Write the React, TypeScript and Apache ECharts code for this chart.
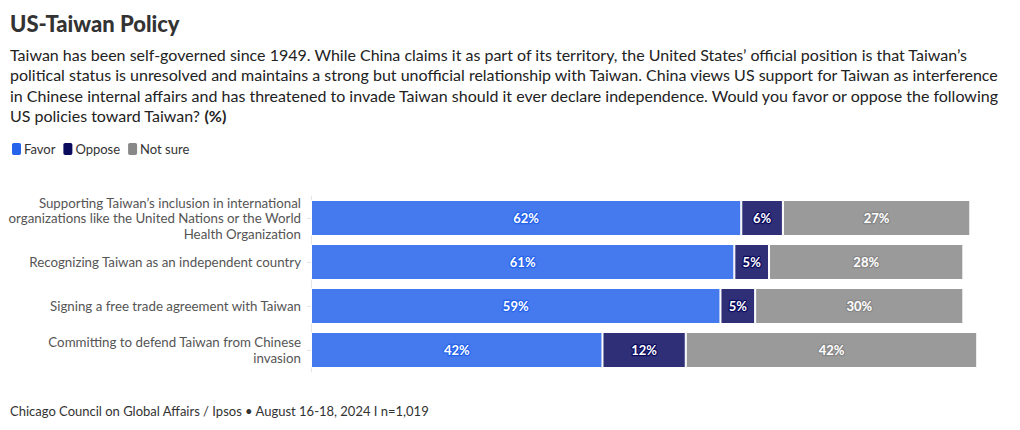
import React, { useEffect, useRef } from "react";
import * as echarts from "echarts";

const categories = [
  "Supporting Taiwan’s inclusion in international\norganizations like the United Nations or the World\nHealth Organization",
  "Recognizing Taiwan as an independent country",
  "Signing a free trade agreement with Taiwan",
  "Committing to defend Taiwan from Chinese\ninvasion",
];
const favor = [62, 61, 59, 42];
const oppose = [6, 5, 5, 12];
const notSure = [27, 28, 30, 42];
const seriesNames = ["Favor", "Oppose", "Not sure"];
const legendColors = ["#2563eb", "#0b0b5e", "#888888"];
const barColors = ["#4579ee", "#2f2f77", "#9a9a9a"];

const titleText = "US-Taiwan Policy";
const subtitleLines = [
  "Taiwan has been self-governed since 1949. While China claims it as part of its territory, the United States’ official position is that Taiwan’s",
  "political status is unresolved and maintains a strong but unofficial relationship with Taiwan. China views US support for Taiwan as interference",
  "in Chinese internal affairs and has threatened to invade Taiwan should it ever declare independence. Would you favor or oppose the following",
];
const subtitleLast = "US policies toward Taiwan? ";
const footerText = "Chicago Council on Global Affairs / Ipsos • August 16-18, 2024 I n=1,019";

const FONT = "Lato, 'Source Sans Pro', sans-serif";

export default function App() {
  const ref = useRef<HTMLDivElement>(null);
  useEffect(() => {
    document.body.style.margin = "0";
    const chart = echarts.init(ref.current!, null, { renderer: "svg" });
    const values = [favor, oppose, notSure];
    chart.setOption({
      animation: false,
      textStyle: { fontFamily: FONT },
      title: [
        {
          text: titleText,
          left: 10,
          top: 12,
          padding: 0,
          textStyle: { fontSize: 22, fontWeight: 900, color: "#333", fontFamily: FONT },
        },
        {
          text: subtitleLines.join("\n") + "\n" + subtitleLast + "{b|(%)}",
          left: 10,
          top: 44,
          padding: 0,
          textStyle: {
            fontSize: 16,
            fontWeight: "normal",
            color: "#222",
            lineHeight: 20.5,
            fontFamily: FONT,
            rich: { b: { fontSize: 16, fontWeight: "bold", color: "#222", fontFamily: FONT } },
          },
        },
        {
          text: footerText,
          left: 10,
          top: 404,
          padding: 0,
          textStyle: { fontSize: 13, color: "#333", fontWeight: "normal", fontFamily: FONT },
        },
      ],
      legend: {
        left: 10,
        top: 141,
        padding: 0,
        itemWidth: 11,
        itemHeight: 14,
        itemGap: 6,
        icon: "roundRect",
        textStyle: { fontSize: 13, color: "#333", padding: [0, 0, 0, -3] },
        data: seriesNames.map((n, i) => ({ name: n, itemStyle: { color: legendColors[i] } })),
      },
      grid: { left: 311, right: 15, top: 196, bottom: 58, containLabel: false },
      xAxis: {
        type: "value",
        min: 0,
        max: 100,
        show: false,
      },
      yAxis: {
        type: "category",
        inverse: true,
        data: categories,
        axisLine: { show: true, lineStyle: { color: "#e6e6e6" } },
        axisTick: { show: true, alignWithLabel: true, length: 4, lineStyle: { color: "#e6e6e6" } },
        axisLabel: { fontSize: 13.3, color: "#555", lineHeight: 15.5, margin: 10, align: "right" },
      },
      series: seriesNames.map((name, i) => ({
        name,
        type: "bar",
        stack: "total",
        barWidth: 36,
        data: values[i],
        itemStyle: { color: barColors[i], borderColor: "#ffffff", borderWidth: 1 },
        label: {
          show: true,
          position: "inside",
          formatter: "{c}%",
          color: "#fff",
          fontSize: 13,
          fontWeight: "bold",
          textBorderColor: legendColors[i],
          textBorderWidth: 2.5,
        },
      })),
    });
    return () => chart.dispose();
  }, []);
  return <div ref={ref} style={{ width: 1020, height: 430 }} />;
}
